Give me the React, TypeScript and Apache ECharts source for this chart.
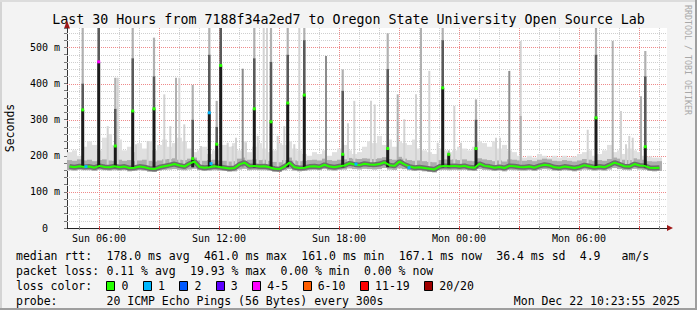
import React, { useEffect, useRef } from 'react';
import * as echarts from 'echarts';

const MONO = "'DejaVu Sans Mono', monospace";

const titleText = 'Last 30 Hours from 7188f34a2ed7 to Oregon State University Open Source Lab';
const yAxisTitle = 'Seconds';
const sideText = 'RRDTOOL / TOBI OETIKER';
const stampText = 'Mon Dec 22 10:23:55 2025';

// time axis in hours since Sun 00:00
const startHour = 4.4;
const endHour = 34.4;
const slotHours = 0.25;
const yMax = 553.7;
const spikeBase = 168;

// median rtt per 15-minute slot (ms)
const medianRtt = [
  170, 168, 171, 169, 170, 167, 172, 169, 168, 171,
  168, 170, 166, 167, 170, 168, 165, 163, 168, 171,
  174, 177, 173, 170, 178, 184, 169, 167, 168, 171,
  169, 167, 165, 166, 176, 181, 171, 172, 170, 171,
  168, 164, 163, 170, 181, 168, 166, 167, 170, 171,
  169, 175, 170, 168, 171, 173, 179, 176, 174, 178,
  176, 175, 177, 182, 174, 172, 184, 176, 170, 167,
  168, 166, 164, 162, 170, 172, 171, 172, 170, 172,
  168, 167, 178, 172, 170, 167, 169, 166, 172, 171,
  169, 168, 170, 167, 172, 175, 173, 168, 167, 170,
  168, 166, 169, 174, 171, 168, 170, 168, 174, 181,
  176, 171, 170, 177, 173, 172, 167, 166, 167,
];

// lowest ping per slot
const pingLow = [
  160, 159, 161, 160, 160, 158, 161, 160, 159, 160,
  159, 160, 157, 158, 160, 159, 156, 155, 159, 161,
  162, 163, 161, 160, 162, 164, 160, 158, 159, 160,
  159, 158, 156, 157, 162, 164, 160, 161, 160, 160,
  159, 156, 155, 160, 163, 159, 157, 158, 160, 161,
  160, 163, 160, 159, 161, 162, 165, 163, 162, 164,
  163, 162, 163, 166, 162, 161, 165, 163, 160, 158,
  159, 157, 155, 154, 160, 161, 160, 161, 160, 161,
  159, 158, 163, 161, 160, 158, 159, 157, 161, 160,
  159, 159, 160, 158, 161, 163, 162, 159, 158, 160,
  159, 157, 159, 162, 161, 159, 160, 159, 162, 166,
  163, 161, 160, 164, 162, 161, 158, 157, 158,
];

// upper edge of the dense smoke per slot
const pingMid = [
  188, 186, 190, 187, 189, 185, 188, 190, 187, 186,
  189, 186, 188, 185, 187, 189, 186, 184, 187, 190,
  191, 193, 189, 188, 192, 195, 187, 186, 188, 189,
  187, 186, 184, 185, 192, 195, 189, 190, 188, 189,
  186, 183, 182, 188, 195, 187, 185, 186, 188, 189,
  187, 192, 188, 186, 189, 190, 194, 192, 191, 193,
  192, 191, 193, 196, 191, 189, 197, 192, 188, 186,
  187, 185, 183, 182, 188, 190, 189, 190, 188, 190,
  186, 185, 193, 190, 188, 185, 187, 184, 190, 189,
  187, 186, 188, 185, 189, 192, 190, 186, 185, 188,
  186, 184, 187, 191, 189, 186, 188, 186, 191, 195,
  192, 189, 188, 193, 190, 189, 185, 184, 185,
];

// top of the light smoke haze per slot
const pingHigh = [
  210, 215, 200, 225, 240, 230, 215, 250, 260, 230,
  245, 215, 225, 210, 235, 220, 240, 215, 230, 245,
  225, 235, 250, 240, 220, 210, 215, 225, 205, 215,
  220, 230, 225, 235, 215, 240, 210, 225, 235, 220,
  210, 215, 235, 230, 240, 220, 215, 205, 200, 210,
  205, 215, 200, 210, 220, 230, 215, 205, 210, 225,
  240, 235, 255, 230, 245, 225, 240, 235, 230, 245,
  220, 215, 210, 205, 220, 215, 210, 215, 225, 220,
  215, 225, 240, 235, 225, 240, 220, 230, 215, 210,
  200, 195, 200, 195, 205, 200, 195, 200, 195, 200,
  195, 198, 205, 210, 215, 200, 205, 215, 230, 210,
  215, 205, 220, 215, 210, 200, 198, 195, 195,
];

// [hour, median, top of dark smoke, top of smoke, loss level]
const darkSpikes = [
  [5.185, 327, 400, 600, 0],
  [5.985, 460, 600, 600, 4],
  [6.815, 227, 330, 416, 0],
  [7.685, 324, 470, 600, 0],
  [8.75, 330, 420, 527, 0],
  [10.685, 192, 300, 396, 0],
  [11.515, 319, 480, 600, 1],
  [11.885, 232, 280, 352, 0],
  [12.085, 450, 600, 600, 0],
  [13.765, 330, 470, 600, 0],
  [14.6, 294, 460, 600, 0],
  [15.435, 346, 480, 600, 0],
  [16.265, 368, 520, 600, 0],
  [18.185, 204, 380, 439, 0],
  [20.435, 220, 440, 539, 0],
  [23.185, 388, 520, 600, 0],
  [23.485, 204, 204, 215, 0],
  [24.85, 220, 300, 356, 0],
  [30.85, 305, 480, 600, 0],
  [33.315, 225, 420, 490, 0],
];

// [hour, top of smoke column, tone 0 light .. 2 dark]
const smokeColumns = [
  [6.435, 282, 0], [6.935, 416, 0], [7.85, 232, 0], [8.435, 241, 0],
  [9.265, 370, 0], [9.565, 282, 0], [9.85, 416, 1], [10.015, 416, 0],
  [10.265, 287, 0], [11.1, 227, 0], [12.435, 236, 0], [12.685, 227, 0],
  [12.85, 250, 0], [13.185, 441, 2], [13.35, 236, 0], [13.935, 255, 0],
  [14.235, 554, 0], [14.4, 554, 0], [14.935, 255, 0], [15.265, 282, 0],
  [15.765, 232, 0], [16.015, 554, 0], [17.35, 476, 2], [18.45, 290, 0],
  [18.765, 352, 0], [19.6, 352, 0], [19.785, 342, 0], [20.935, 370, 1],
  [21.265, 301, 0], [21.85, 370, 0], [22.1, 554, 1], [22.515, 435, 0],
  [22.935, 236, 0], [23.765, 338, 0], [24.1, 236, 0], [25.85, 250, 0],
  [26.05, 250, 0], [26.515, 435, 2], [27.085, 518, 0], [27.085, 310, 1],
  [30.435, 272, 0], [31.685, 518, 1], [32.1, 324, 0], [32.35, 232, 0],
  [32.515, 255, 0], [32.685, 250, 0], [33.1, 365, 1],
];

// [hour, median, loss level] for baseline steps with packet loss
const lossDots = [
  [5.35, 170, 1], [11.6, 178, 1], [18.85, 177, 1], [21.5, 167, 1],
];

const hourTicks = [5, 6, 7, 8, 9, 10, 11, 12, 13, 14, 15, 16, 17, 18, 19, 20, 21, 22, 23, 24, 25, 26, 27, 28, 29, 30, 31, 32, 33, 34];
const labelHours = [6, 12, 18, 24, 30];
const labelTexts = ['Sun 06:00', 'Sun 12:00', 'Sun 18:00', 'Mon 00:00', 'Mon 06:00'];
const minorRtt = [20, 40, 60, 80, 120, 140, 160, 180, 220, 240, 260, 280, 320, 340, 360, 380, 420, 440, 460, 480, 520, 540];
const majorRtt = [100, 200, 300, 400, 500];

const lossLabels = ['0', '1', '2', '3', '4-5', '6-10', '11-19', '20/20'];
const lossColors = ['#26ff00', '#00b8ff', '#0059ff', '#5e00ff', '#ff00ff', '#ff5e00', '#ff0000', '#a00000'];

// legend chunks: [column, text]
const rttChunks: [number, string][] = [
  [0, 'median rtt:'], [13, '178.0 ms avg'], [27, '461.0 ms max'], [41, '161.0 ms min'],
  [55, '167.1 ms now'], [69, '36.4 ms sd'], [81, '4.9'], [87, 'am/s'],
];
const lossChunks: [number, string][] = [
  [0, 'packet loss:'], [13, '0.11 % avg'], [25, '19.93 % max'], [38, '0.00 % min'], [50, '0.00 % now'],
];
const probeChunks: [number, string][] = [
  [0, 'probe:'], [13, '20 ICMP Echo Pings (56 Bytes) every 300s'],
];

const GRID_GRAY = '#cfcfcf';
const GRID_RED = '#ee8a8a';
const rowY = [255.5, 270.5, 285.5, 300.5];
const legendFont = `11.5px ${MONO}`;
const charW = 6.96;
const legendLeft = 16;
const colX = (c: number) => legendLeft + c * charW;

function txt(text: string, x: number, y: number, font: string, align = 'left', extra: any = {}) {
  return {
    type: 'text', x, y, silent: true, ...extra,
    style: { text, font, fill: '#000', textAlign: align, textVerticalAlign: 'middle' },
  };
}

function buildOption(): any {
  const slotRects = (upper: number[]) =>
    medianRtt.map((_, i) => [startHour + i * slotHours, startHour + (i + 1) * slotHours, pingLow[i], upper[i]]);
  const rectSeries = (upper: number[], color: string, z: number) => ({
    type: 'custom', z, clip: true, silent: true,
    data: slotRects(upper),
    encode: { x: [0, 1], y: [2, 3] },
    renderItem: (_p: any, api: any) => {
      const a = api.coord([api.value(0), api.value(3)]);
      const b = api.coord([api.value(1), api.value(2)]);
      return { type: 'rect', shape: { x: a[0], y: a[1], width: b[0] - a[0], height: b[1] - a[1] }, style: { fill: color } };
    },
  });
  const medianPoints = medianRtt.map((v, i) => [startHour + (i + 0.5) * slotHours, v]);

  // legend boxes layout
  const boxEls: any[] = [];
  let bx = colX(13);
  lossLabels.forEach((lab, i) => {
    boxEls.push({
      type: 'rect', silent: true,
      shape: { x: Math.round(bx) + 0.5, y: Math.round(rowY[2] - 4.5) + 0.5, width: 8, height: 9 },
      style: { fill: lossColors[i], stroke: '#000', lineWidth: 1 },
    });
    boxEls.push(txt(lab, bx + 15, rowY[2], legendFont));
    bx = bx + 15 + lab.length * charW + 14.5;
  });

  const graphic: any[] = [
    { type: 'rect', silent: true, shape: { x: 0, y: 0, width: 2, height: 310 }, style: { fill: '#d4d4d4' } },
    { type: 'rect', silent: true, shape: { x: 0, y: 0, width: 697, height: 2 }, style: { fill: '#dcdcdc' } },
    { type: 'rect', silent: true, shape: { x: 695, y: 0, width: 2, height: 310 }, style: { fill: '#9e9e9e' } },
    { type: 'rect', silent: true, shape: { x: 0, y: 308, width: 697, height: 2 }, style: { fill: '#9e9e9e' } },
    txt(titleText, 348.5, 19.5, `13.3px ${MONO}`, 'center'),
    txt(yAxisTitle, 10, 128, `11.5px ${MONO}`, 'center', { rotation: Math.PI / 2 }),
    {
      type: 'text', x: 688, y: 60, rotation: -Math.PI / 2, silent: true,
      style: { text: sideText, font: `8.3px ${MONO}`, fill: '#a8a8a8', textAlign: 'center', textVerticalAlign: 'middle' },
    },
    { type: 'polygon', silent: true, shape: { points: [[64, 28.5], [67, 20.5], [70, 28.5]] }, style: { fill: '#a01818' } },
    { type: 'polygon', silent: true, shape: { points: [[667, 225], [673, 228], [667, 231]] }, style: { fill: '#a01818' } },
    ...rttChunks.map(([c, t]) => txt(t, colX(c), rowY[0], legendFont)),
    ...lossChunks.map(([c, t]) => txt(t, colX(c), rowY[1], legendFont)),
    txt('loss color:', legendLeft, rowY[2], legendFont),
    ...boxEls,
    ...probeChunks.map(([c, t]) => txt(t, colX(c), rowY[3], legendFont)),
    txt(stampText, 680, rowY[3], legendFont, 'right'),
  ];

  return {
    animation: false,
    backgroundColor: '#f3f3f3',
    grid: { left: 67, top: 28, width: 600, height: 200, show: true, backgroundColor: '#ffffff', borderWidth: 0 },
    xAxis: {
      type: 'value', min: startHour, max: endHour,
      axisLine: { show: true, lineStyle: { color: '#222', width: 1 } },
      axisTick: { show: false }, axisLabel: { show: false }, splitLine: { show: false },
    },
    yAxis: {
      type: 'value', min: 0, max: yMax, interval: 20,
      axisLine: { show: true, lineStyle: { color: '#333', width: 1 } },
      axisTick: { show: true, length: 3, lineStyle: { color: '#777' } },
      splitLine: { show: false },
      axisLabel: {
        formatter: (v: number) => (v % 100 === 0 ? (v === 0 ? '{z|0}' : `${v} m`) : ''),
        fontFamily: 'DejaVu Sans Mono', fontSize: 10, color: '#000', margin: 7,
        rich: { z: { fontFamily: 'DejaVu Sans Mono', fontSize: 10, color: '#000', padding: [0, 12, 0, 0] } },
      },
    },
    graphic,
    series: [
      {
        type: 'custom', z: 1, silent: true, clip: false,
        data: hourTicks.map((h) => [h, 0]),
        renderItem: (_p: any, api: any) => {
          const h = api.value(0);
          const top = api.coord([h, yMax]);
          const bot = api.coord([h, 0]);
          const major = h % 3 === 0;
          const x = Math.round(bot[0]) + 0.5;
          return {
            type: 'group', children: [
              { type: 'line', shape: { x1: x, y1: top[1], x2: x, y2: bot[1] }, style: { stroke: major ? GRID_RED : GRID_GRAY, lineWidth: 1, lineDash: [1, 1] } },
              { type: 'line', shape: { x1: x, y1: bot[1] - 2, x2: x, y2: bot[1] + 2 }, style: { stroke: major ? '#d04040' : '#888', lineWidth: 1 } },
            ],
          };
        },
      },
      {
        type: 'custom', z: 1, silent: true, clip: false,
        data: minorRtt.map((v) => [startHour, v, 0]).concat(majorRtt.map((v) => [startHour, v, 1])),
        encode: { x: 0, y: 1 },
        renderItem: (_p: any, api: any) => {
          const v = api.value(1);
          const a = api.coord([startHour, v]);
          const b = api.coord([endHour, v]);
          const y = Math.round(a[1]) + 0.5;
          return { type: 'line', shape: { x1: a[0], y1: y, x2: b[0], y2: y }, style: { stroke: api.value(2) ? GRID_RED : GRID_GRAY, lineWidth: 1, lineDash: [1, 1] } };
        },
      },
      {
        type: 'custom', z: 1, silent: true, clip: false,
        data: labelHours.map((h, i) => [h, 0, i]),
        encode: { x: 0, y: 1 },
        renderItem: (_p: any, api: any) => {
          const p = api.coord([api.value(0), 0]);
          return {
            type: 'text', x: p[0], y: p[1] + 10.5,
            style: { text: labelTexts[api.value(2)], font: `10px ${MONO}`, fill: '#000', textAlign: 'center', textVerticalAlign: 'middle' },
          };
        },
      },
      rectSeries(pingHigh, '#e0e0e0', 2),
      rectSeries(pingMid, '#adadad', 2),
      {
        type: 'custom', z: 3, silent: true, clip: true,
        data: smokeColumns,
        encode: { x: 0, y: 1 },
        renderItem: (_p: any, api: any) => {
          const h = api.value(0);
          const a = api.coord([h, api.value(1)]);
          const b = api.coord([h, spikeBase]);
          const tone = api.value(2);
          const fill = tone === 2 ? '#8c8c8c' : tone === 1 ? '#b0b0b0' : '#d2d2d2';
          return { type: 'rect', shape: { x: a[0] - 1, y: a[1], width: 2, height: b[1] - a[1] }, style: { fill } };
        },
      },
      {
        type: 'line', z: 4, silent: true, data: medianPoints, symbol: 'none',
        lineStyle: { color: '#6e6e6e', width: 5 },
      },
      {
        type: 'custom', z: 5, silent: true, clip: true,
        data: darkSpikes,
        encode: { x: 0, y: 1 },
        renderItem: (_p: any, api: any) => {
          const h = api.value(0);
          const pBase = api.coord([h, spikeBase]);
          const pMed = api.coord([h, api.value(1)]);
          const pDark = api.coord([h, api.value(2)]);
          const pTop = api.coord([h, api.value(3)]);
          const x = pBase[0];
          return {
            type: 'group', children: [
              { type: 'rect', shape: { x: x - 1.1, y: pTop[1], width: 2.2, height: pDark[1] - pTop[1] }, style: { fill: '#b0b0b0' } },
              { type: 'rect', shape: { x: x - 1.3, y: pDark[1], width: 2.6, height: pMed[1] - pDark[1] }, style: { fill: '#5a5a5a' } },
              { type: 'rect', shape: { x: x - 1.5, y: pMed[1], width: 3, height: pBase[1] - pMed[1] }, style: { fill: '#1c1c1c' } },
            ],
          };
        },
      },
      {
        type: 'line', z: 6, silent: true, data: medianPoints, symbol: 'none',
        lineStyle: { color: '#26ff00', width: 2 },
      },
      {
        type: 'custom', z: 7, silent: true, clip: true,
        data: darkSpikes.map((s) => [s[0], s[1], s[4]]).concat(lossDots),
        encode: { x: 0, y: 1 },
        renderItem: (_p: any, api: any) => {
          const p = api.coord([api.value(0), api.value(1)]);
          return { type: 'rect', shape: { x: p[0] - 1.5, y: p[1] - 1.5, width: 3, height: 3 }, style: { fill: lossColors[api.value(2)] } };
        },
      },
    ],
  };
}

export default function App() {
  const ref = useRef<HTMLDivElement>(null);
  useEffect(() => {
    if (!ref.current) return;
    const chart = echarts.init(ref.current, null, { renderer: 'svg' });
    chart.setOption(buildOption());
    return () => chart.dispose();
  }, []);
  return <div ref={ref} style={{ position: 'fixed', left: 0, top: 0, width: 697, height: 310 }} />;
}
